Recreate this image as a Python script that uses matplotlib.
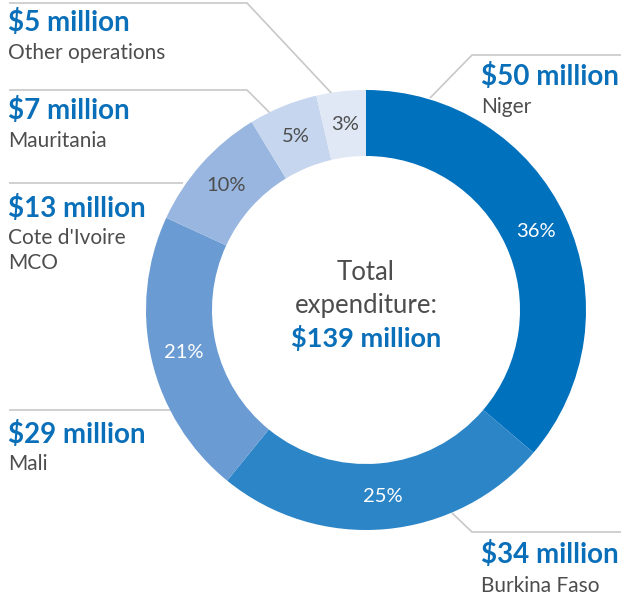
import matplotlib.pyplot as plt
import numpy as np

plt.rcParams['font.family'] = ['Lato', 'DejaVu Sans']

names = ['Niger', 'Burkina Faso', 'Mali', "Cote d'Ivoire\nMCO", 'Mauritania', 'Other operations']
amounts = ['$50 million', '$34 million', '$29 million', '$13 million', '$7 million', '$5 million']
values = [50, 34, 29, 13, 7, 5]
pcts = ['36%', '25%', '21%', '10%', '5%', '3%']
colors = ['#0071bc', '#2b85c6', '#6a9bd2', '#98b6df', '#c6d6ee', '#e0e8f5']
pct_colors = ['white', 'white', 'white', '#4d4d4d', '#4d4d4d', '#4d4d4d']
total = '$139 million'

W, H = 621, 599
BLUE = '#0a6fb9'
GREY = '#4d4d4d'
LINE = '#c8c8c8'

fig = plt.figure(figsize=(W / 100, H / 100), dpi=100)
ax = fig.add_axes([0, 0, 1, 1])

def fy(py):
    # pixel row (from top) -> data y
    return H - py

cx, cy = 366, fy(310)
R, ring = 220, 66

wedges, _ = ax.pie(values, radius=R, center=(cx, cy), startangle=90, counterclock=False,
                   colors=colors, wedgeprops=dict(width=ring, linewidth=0))

for w, p, c in zip(wedges, pcts, pct_colors):
    ang = np.deg2rad((w.theta1 + w.theta2) / 2)
    r = R - ring / 2
    ax.text(cx + r * np.cos(ang), cy + r * np.sin(ang), p, color=c, fontsize=14.5,
            ha='center', va='center')

# leader lines (pixel coords)
leaders = [
    [(430, 98), (472, 55), (621, 55)],
    [(452, 513), (472, 532), (621, 532)],
    [(171, 410), (9, 410)],
    [(183, 183), (9, 183)],
    [(270, 113), (247, 90), (9, 90)],
    [(336, 98), (247, 3), (9, 3)],
]
for pts in leaders:
    xs = [p[0] for p in pts]
    ys = [fy(p[1]) for p in pts]
    ax.plot(xs, ys, color=LINE, lw=1.2, zorder=0, solid_capstyle='butt')

# labels: (x, amount row, first name row)
label_pos = [(481, 77, 107), (481, 555, 586), (8, 435, 464), (8, 208, 238), (8, 111, 141), (8, 22, 53)]
for (x, ya, yn), amt, nm in zip(label_pos, amounts, names):
    ax.text(x, fy(ya), amt, color=BLUE, fontsize=20, fontweight='bold', ha='left', va='center')
    for i, line in enumerate(nm.split('\n')):
        ax.text(x, fy(yn + 25 * i), line, color=GREY, fontsize=15, ha='left', va='center')

ax.text(cx, fy(272), 'Total', color=GREY, fontsize=18.5, ha='center', va='center')
ax.text(cx, fy(305), 'expenditure:', color=GREY, fontsize=18.5, ha='center', va='center')
ax.text(cx, fy(338), total, color=BLUE, fontsize=19.5, fontweight='bold', ha='center', va='center')

ax.set_xlim(0, W)
ax.set_ylim(0, H)
ax.set_aspect('equal')
ax.axis('off')

fig.savefig('out.png', dpi=100)
